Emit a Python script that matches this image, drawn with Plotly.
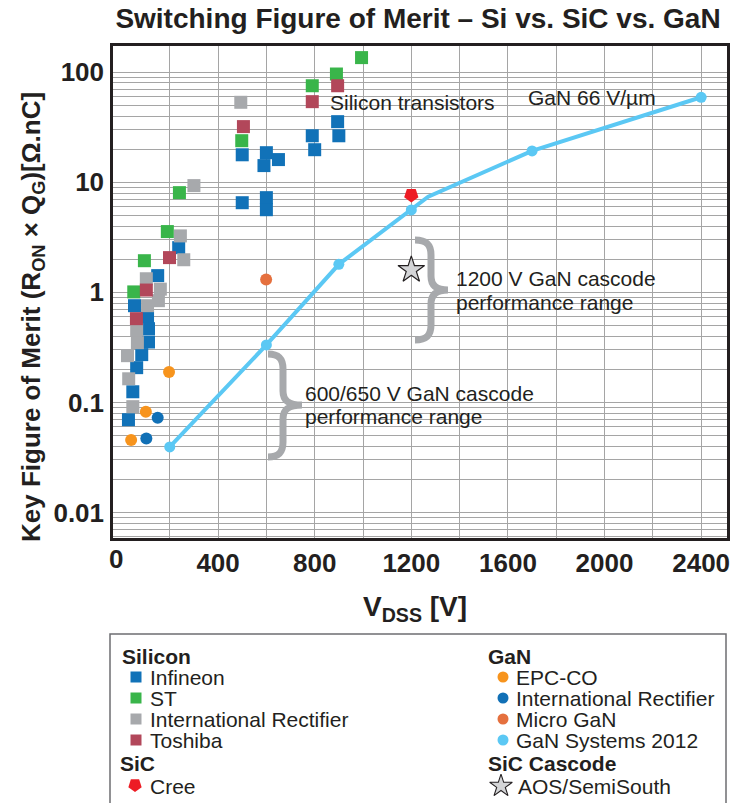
import math
import plotly.graph_objects as go

# ---------------- data ----------------
inf_v = [500, 895, 900, 790, 800, 600, 650, 590, 500, 600, 600, 237, 150, 54, 108, 112, 112, 84, 63, 47, 29]
inf_fom = [17.8, 35.6, 26.5, 26.5, 19.8, 18.6, 16.1, 14.2, 6.53, 7.26, 5.64, 2.55, 1.42, 0.757, 0.589, 0.468,
           0.354, 0.272, 0.207, 0.125, 0.0697]
st_v = [994, 890, 790, 498, 240, 190, 95, 51]
st_fom = [136, 96.5, 75.5, 23.9, 8.06, 3.57, 1.94, 1.01]
irsi_v = [494, 300, 244, 258, 103, 161, 153, 108, 63, 66, 25, 30, 47]
irsi_fom = [53.4, 9.34, 3.26, 1.98, 1.33, 1.07, 0.841, 0.757, 0.458, 0.349, 0.266, 0.164, 0.0915]
tosh_v = [895, 790, 505, 199, 103, 62]
tosh_fom = [75.5, 54.1, 32.1, 2.07, 1.05, 0.577]
epc_v = [197, 101, 40]
epc_fom = [0.189, 0.0824, 0.0456]
irgan_v = [150, 103]
irgan_fom = [0.0727, 0.0469]
micro_v = [599]
micro_fom = [1.31]
gans_v = [200, 600, 900, 1200, 1700, 2400]
gans_fom = [0.0394, 0.333, 1.80, 5.61, 19.3, 59.3]
gans_curve_v = [200, 600, 900, 1270, 1700, 2400]
gans_curve_fom = [0.0394, 0.333, 1.80, 7.41, 19.3, 59.3]
cree_v = [1200]
cree_fom = [7.67]
aos_v = [1200]
aos_fom = [1.60]

x_tickvals = [400, 800, 1200, 1600, 2000, 2400]
x_ticktext = ["400", "800", "1200", "1600", "2000", "2400"]
x_minorvals = [200, 600, 1000, 1400, 1800, 2200]
y_tickvals = [0.01, 0.1, 1, 10, 100]
y_ticktext = ["0.01", "0.1", "1", "10", "100"]
y_decades = [0.001, 0.01, 0.1, 1, 10, 100]

# ---------------- colours ----------------
C_INF = "#1172b8"
C_ST = "#39b54a"
C_IRSI = "#a7a9ac"
C_TOSH = "#b2475a"
C_EPC = "#f7941d"
C_IRGAN = "#1170b6"
C_MICRO = "#e5703e"
C_GANS = "#5bc8f4"
C_CREE = "#ed1c24"
TXT = "#231f20"
GRID = "#a5a5a5"
FONT = "Liberation Sans, Arial, Helvetica, sans-serif"

# ---------------- geometry ----------------
W, H = 732, 803
ML, MR, MT = 113, 5, 46
PB = 538  # bottom of plot (px)
PW = W - ML - MR
PH = H - MT
ydom0 = (H - PB) / PH


def px(X):
    return (X - ML) / PW


def py(Y):
    return (H - Y) / PH


y_minorvals = [round(k * d, 6) for d in y_decades for k in range(2, 10)]

fig = go.Figure()

sq = dict(symbol="square", size=13)
fig.add_trace(go.Scatter(x=inf_v, y=inf_fom, mode="markers", name="Infineon",
                         marker=dict(color=C_INF, **sq)))
fig.add_trace(go.Scatter(x=st_v, y=st_fom, mode="markers", name="ST",
                         marker=dict(color=C_ST, **sq)))
fig.add_trace(go.Scatter(x=irsi_v, y=irsi_fom, mode="markers", name="International Rectifier",
                         marker=dict(color=C_IRSI, **sq)))
fig.add_trace(go.Scatter(x=tosh_v, y=tosh_fom, mode="markers", name="Toshiba",
                         marker=dict(color=C_TOSH, **sq)))
fig.add_trace(go.Scatter(x=epc_v, y=epc_fom, mode="markers", name="EPC-CO",
                         marker=dict(color=C_EPC, size=12)))
fig.add_trace(go.Scatter(x=irgan_v, y=irgan_fom, mode="markers", name="International Rectifier GaN",
                         marker=dict(color=C_IRGAN, size=12)))
fig.add_trace(go.Scatter(x=micro_v, y=micro_fom, mode="markers", name="Micro GaN",
                         marker=dict(color=C_MICRO, size=12)))
fig.add_trace(go.Scatter(x=gans_curve_v, y=gans_curve_fom, mode="lines", name="GaN 66 V/µm",
                         line=dict(color=C_GANS, width=4)))
fig.add_trace(go.Scatter(x=gans_v, y=gans_fom, mode="markers", name="GaN Systems 2012",
                         marker=dict(color=C_GANS, size=11)))
fig.add_trace(go.Scatter(x=cree_v, y=cree_fom, mode="markers", name="Cree",
                         marker=dict(color=C_CREE, symbol="pentagon", angle=180, size=15)))
fig.add_trace(go.Scatter(x=aos_v, y=aos_fom, mode="markers", name="AOS/SemiSouth",
                         marker=dict(color="#d4d5d7", symbol="star", size=20,
                                     line=dict(color=TXT, width=1.2))))

# ---------------- legend (drawn on an auxiliary pixel-like axis) ----------------
leg_rows_y = [677, 698, 719, 740]
leg_left = [("Infineon", C_INF), ("ST", C_ST), ("International Rectifier", C_IRSI), ("Toshiba", C_TOSH)]
leg_right = [("EPC-CO", C_EPC), ("International Rectifier", C_IRGAN), ("Micro GaN", C_MICRO),
             ("GaN Systems 2012", C_GANS)]

fig.add_trace(go.Scatter(x=[136] * 4, y=leg_rows_y, xaxis="x2", yaxis="y2", mode="markers",
                         marker=dict(symbol="square", size=11, color=[c for _, c in leg_left]),
                         cliponaxis=False, hoverinfo="skip"))
fig.add_trace(go.Scatter(x=[503] * 4, y=leg_rows_y, xaxis="x2", yaxis="y2", mode="markers",
                         marker=dict(size=11, color=[c for _, c in leg_right]),
                         cliponaxis=False, hoverinfo="skip"))
fig.add_trace(go.Scatter(x=[135], y=[785], xaxis="x2", yaxis="y2", mode="markers",
                         marker=dict(symbol="pentagon", angle=180, size=14, color=C_CREE),
                         cliponaxis=False, hoverinfo="skip"))
fig.add_trace(go.Scatter(x=[501], y=[786], xaxis="x2", yaxis="y2", mode="markers",
                         marker=dict(symbol="star", size=17, color="#d4d5d7", line=dict(color=TXT, width=1.1)),
                         cliponaxis=False, hoverinfo="skip"))

annotations = []
LF = 21
for (t, _), yy in zip(leg_left, leg_rows_y):
    annotations.append(dict(x=148, y=yy, xref="x2", yref="y2", text=t, showarrow=False, xanchor="left",
                            yanchor="middle", font=dict(size=LF, color=TXT, family=FONT)))
for (t, _), yy in zip(leg_right, leg_rows_y):
    annotations.append(dict(x=514, y=yy, xref="x2", yref="y2", text=t, showarrow=False, xanchor="left",
                            yanchor="middle", font=dict(size=LF, color=TXT, family=FONT)))
annotations.append(dict(x=148, y=786, xref="x2", yref="y2", text="Cree", showarrow=False, xanchor="left",
                        yanchor="middle", font=dict(size=LF, color=TXT, family=FONT)))
annotations.append(dict(x=516, y=786, xref="x2", yref="y2", text="AOS/SemiSouth", showarrow=False,
                        xanchor="left", yanchor="middle", font=dict(size=LF, color=TXT, family=FONT)))
for t, xx, yy in [("Silicon", 120, 656), ("SiC", 118, 763), ("GaN", 486, 656), ("SiC Cascode", 486, 763)]:
    annotations.append(dict(x=xx, y=yy, xref="x2", yref="y2", text=t, showarrow=False, xanchor="left",
                            yanchor="middle", font=dict(size=LF, color=TXT, family=FONT, weight="bold")))

# ---------------- in-plot labels ----------------
AF = 21


def lab(text, X, Y):
    annotations.append(dict(x=px(X), y=py(Y), xref="paper", yref="paper", text=text, showarrow=False,
                            xanchor="left", yanchor="middle", font=dict(size=AF, color=TXT, family=FONT)))


lab("Silicon transistors", 328, 102)
lab("GaN 66 V/µm", 526, 98)
lab("1200 V GaN cascode", 454, 278)
lab("performance range", 454, 302)
lab("600/650 V GaN cascode", 303, 393)
lab("performance range", 303, 416)

# axis titles and the "0" tick label
annotations.append(dict(x=px(32), y=py(317), xref="paper", yref="paper", textangle=-90,
                        text="Key Figure of Merit (R<sub>ON</sub> × Q<sub>G</sub>)[Ω.nC]", showarrow=False,
                        xanchor="center", yanchor="middle", font=dict(size=26, color=TXT, family=FONT, weight="bold")))
annotations.append(dict(x=px(415), y=py(608), xref="paper", yref="paper", text="V<sub>DSS</sub> [V]",
                        showarrow=False, xanchor="center", yanchor="middle",
                        font=dict(size=28, color=TXT, family=FONT, weight="bold")))
annotations.append(dict(x=px(116), y=py(559), xref="paper", yref="paper", text="0",
                        showarrow=False, xanchor="center", yanchor="middle",
                        font=dict(size=26, color=TXT, family=FONT, weight="bold")))

# ---------------- shapes: white label boxes, braces, legend frame ----------------
shapes = []
for x0, y0, x1, y1 in [(326, 92, 496, 113), (522, 88, 657, 109), (450, 265, 657, 314), (299, 381, 534, 427)]:
    shapes.append(dict(type="rect", xref="paper", yref="paper", x0=px(x0), x1=px(x1), y0=py(y1), y1=py(y0),
                       fillcolor="white", line=dict(width=0), layer="between"))


def brace(xe, xs, xt, yt, ym, yb):
    r = lambda X, Y: f"{px(X):.5f},{py(Y):.5f}"
    d = (f"M{r(xe, yt)} C{r(xe + 0.75*(xs-xe), yt)} {r(xs, yt + 5)} {r(xs, yt + 15)} "
         f"L{r(xs, ym - 14)} C{r(xs, ym - 5)} {r(xs + 5, ym)} {r(xt, ym)} "
         f"C{r(xs + 5, ym)} {r(xs, ym + 5)} {r(xs, ym + 14)} "
         f"L{r(xs, yb - 15)} C{r(xs, yb - 5)} {r(xe + 0.75*(xs-xe), yb)} {r(xe, yb)}")
    return dict(type="path", xref="paper", yref="paper", path=d, line=dict(color="#a7a9ac", width=7))


shapes.append(brace(415, 431, 448, 240, 290, 340))
shapes.append(brace(268, 283, 302, 354, 405, 457))
shapes.append(dict(type="rect", xref="paper", yref="paper", x0=px(110), x1=px(726), y0=py(810), y1=py(634),
                   line=dict(color="#6d6e71", width=1.5), fillcolor="rgba(0,0,0,0)"))

axis_common = dict(showgrid=True, gridcolor=GRID, gridwidth=1.2, showline=True, mirror=True,
                   linecolor=TXT, linewidth=2.5, ticks="", ticklen=0, zeroline=False, automargin=False,
                   tickfont=dict(size=26, color=TXT, family=FONT, weight="bold"))

fig.update_layout(
    width=W, height=H,
    margin=dict(l=ML, r=MR, t=MT, b=0, pad=0),
    paper_bgcolor="white", plot_bgcolor="white",
    showlegend=False,
    title=dict(text="Switching Figure of Merit – Si vs. SiC vs. GaN", x=418 / W, xanchor="center",
               xref="container", y=1 - 18 / H, yanchor="middle", yref="container",
               font=dict(size=28, color=TXT, family=FONT, weight="bold")),
    xaxis=dict(domain=[0, 1], range=[-35, 2507], tickmode="array", tickvals=x_tickvals, ticktext=x_ticktext,
               minor=dict(tickmode="array", tickvals=x_minorvals, showgrid=True, gridcolor=GRID, gridwidth=1.2,
                          ticks=""),
               anchor="y", ticklabelstandoff=0, **axis_common),
    yaxis=dict(type="log", domain=[ydom0, 1], range=[math.log10(0.00586), math.log10(173.4)],
               tickmode="array", tickvals=y_tickvals, ticktext=y_ticktext,
               minor=dict(tickmode="array", tickvals=y_minorvals, showgrid=True, gridcolor=GRID, gridwidth=1.2,
                          ticks=""),
               anchor="x", ticklabelstandoff=1, **axis_common),
    xaxis2=dict(domain=[0, 1], range=[ML, W - MR], anchor="y2", visible=False, fixedrange=True),
    yaxis2=dict(domain=[0, (H - 560) / PH], range=[H, 560], anchor="x2", visible=False, fixedrange=True),
    annotations=annotations,
    shapes=shapes,
    font=dict(family=FONT, color=TXT),
)

fig.write_html("out.html", config={"displayModeBar": False},
               post_script="document.body.style.margin='0px';")
